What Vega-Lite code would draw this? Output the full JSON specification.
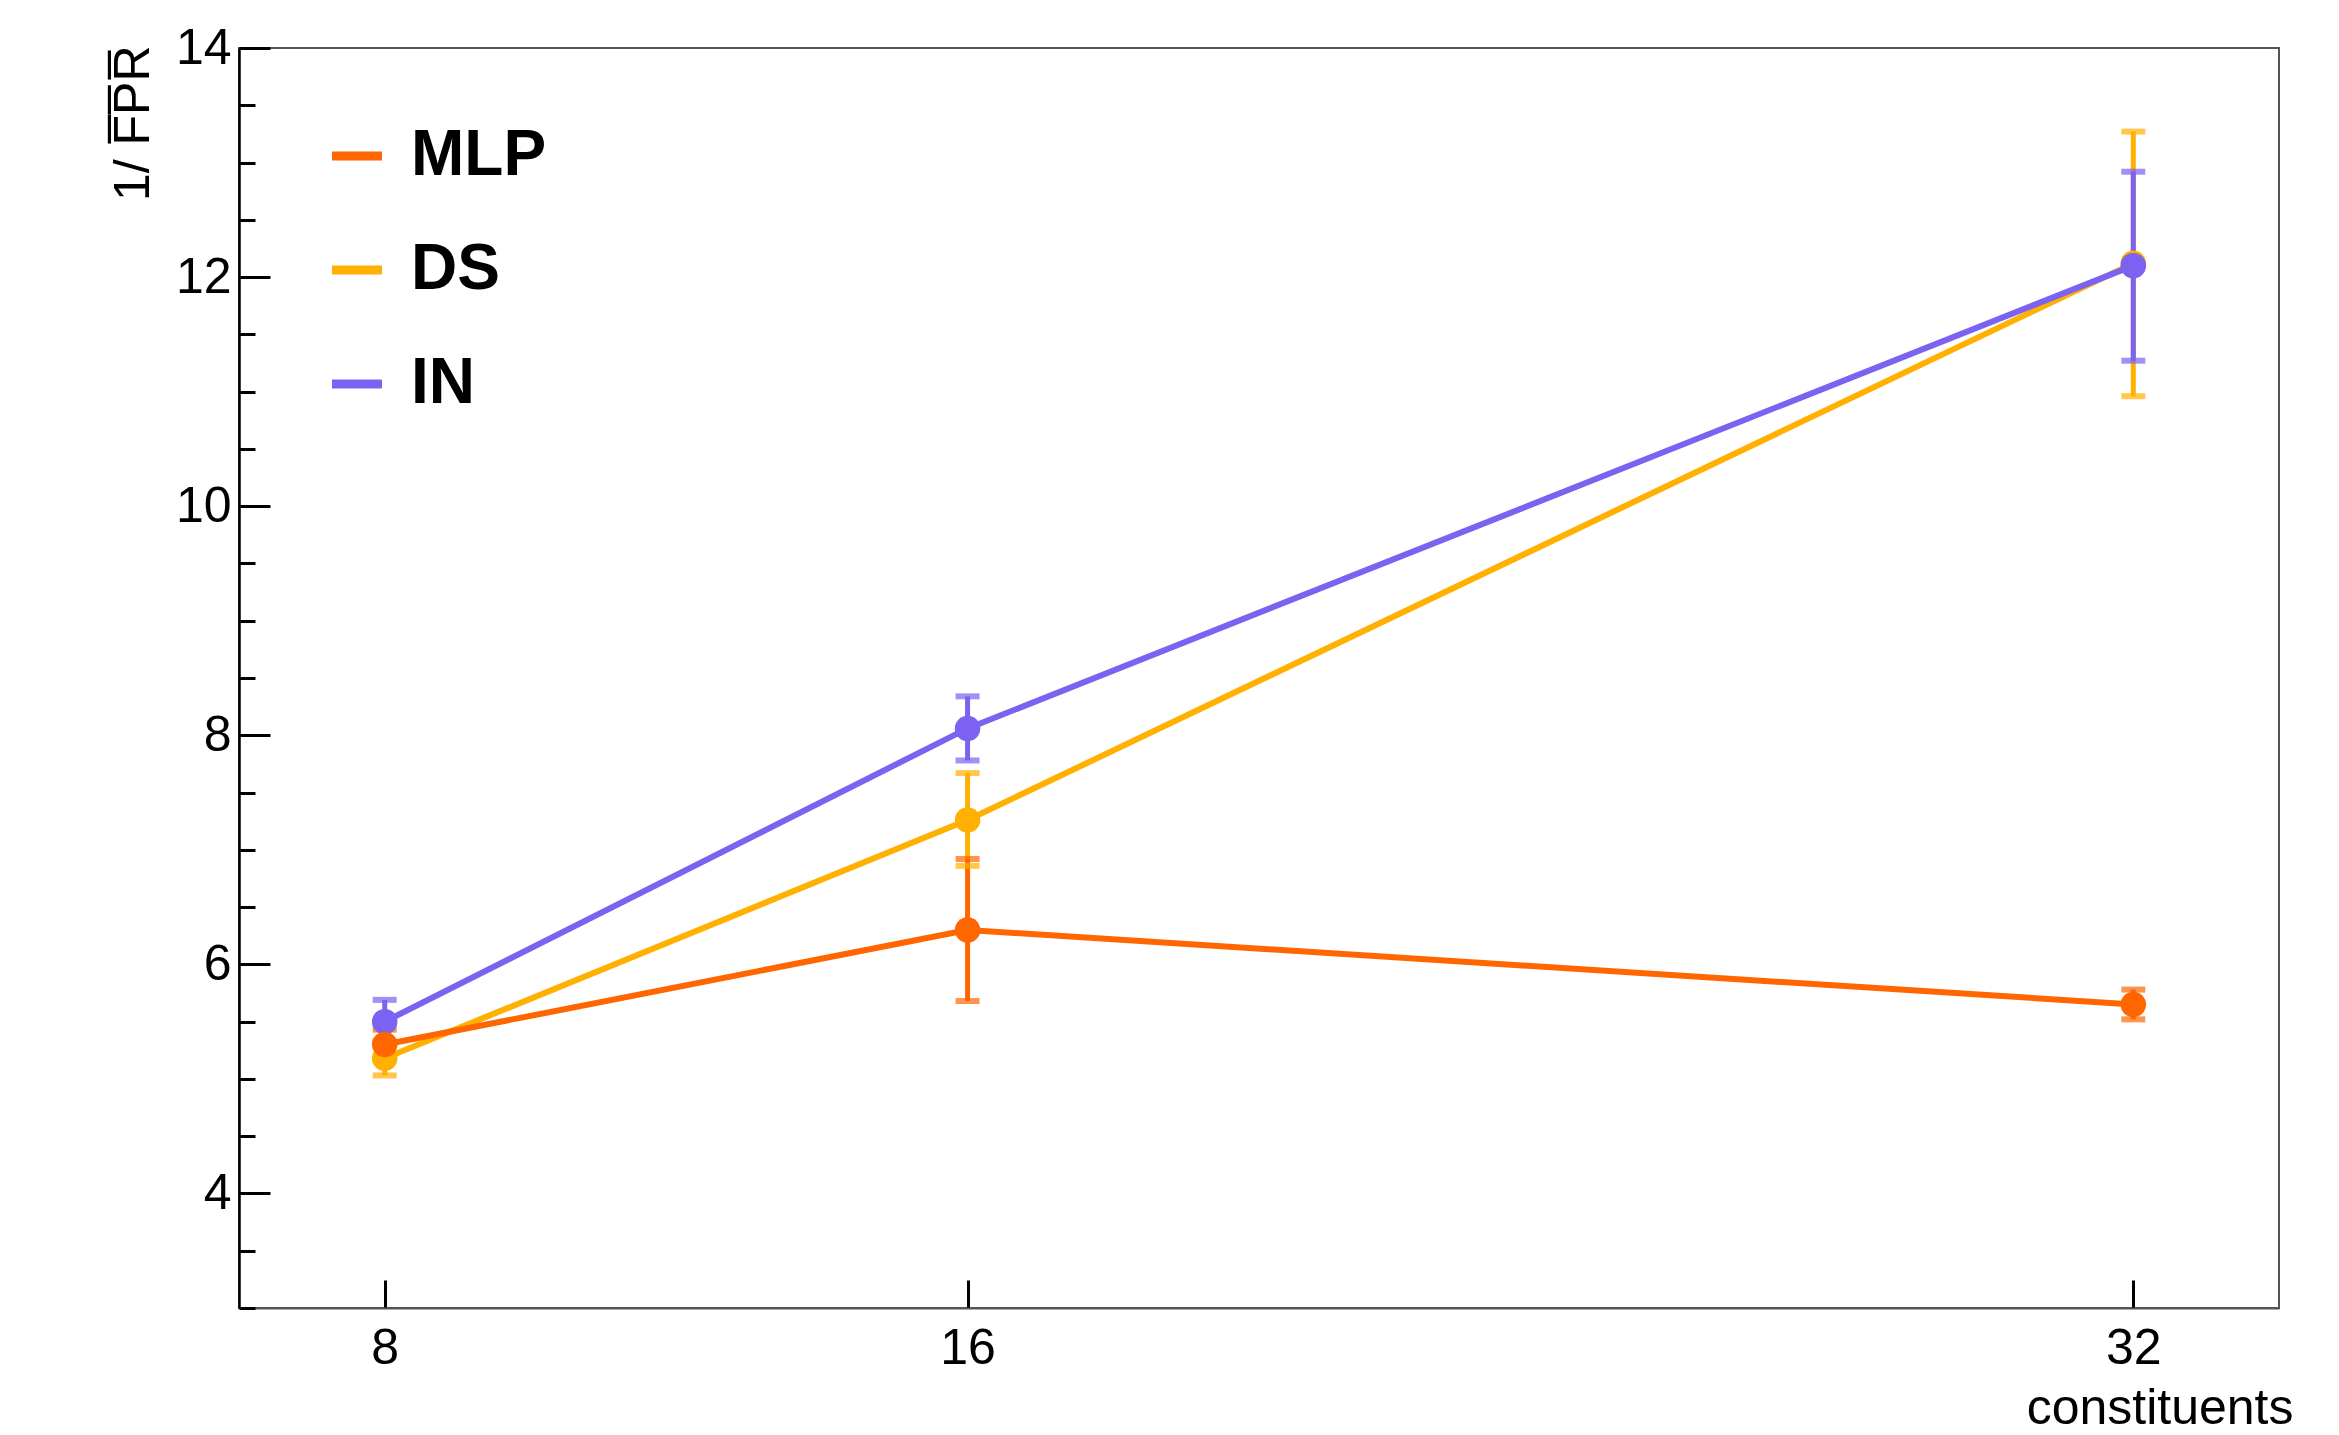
{
  "$schema": "https://vega.github.io/schema/vega-lite/v6.json",
  "width": 2040,
  "height": 1260,
  "autosize": {"type": "none"},
  "padding": {"left": 239, "top": 48, "right": 60, "bottom": 127},
  "background": "white",
  "config": {
    "view": {"stroke": "#555555", "strokeWidth": 2},
    "font": "Liberation Sans",
    "axis": {
      "labelFont": "Liberation Sans",
      "titleFont": "Liberation Sans",
      "labelFontSize": 50,
      "titleFontSize": 50,
      "titleFontWeight": "normal",
      "labelColor": "black",
      "titleColor": "black",
      "grid": false,
      "tickColor": "black",
      "tickWidth": 3
    },
    "axisY": {
      "values": [3, 3.5, 4, 4.5, 5, 5.5, 6, 6.5, 7, 7.5, 8, 8.5, 9, 9.5, 10, 10.5, 11, 11.5, 12, 12.5, 13, 13.5, 14],
      "labelExpr": "datum.value % 2 === 0 && datum.value >= 4 ? '' + datum.value : ''",
      "tickSize": {"condition": {"test": "datum.value % 2 === 0", "value": -31}, "value": -16},
      "domainColor": "black",
      "domainWidth": 2.5,
      "labelPadding": 39,
      "labelFlush": false,
      "titleFontSize": 50,
      "titleAngle": -90,
      "titleAlign": "right",
      "titleBaseline": "alphabetic",
      "titleX": -91,
      "titleY": -3
    },
    "legend": {
      "orient": "none",
      "legendX": 86,
      "legendY": 76,
      "symbolType": "stroke",
      "symbolStrokeWidth": 9,
      "symbolSize": 2500,
      "symbolOpacity": 1,
      "labelFont": "Liberation Sans",
      "labelFontSize": 64,
      "labelFontWeight": "bold",
      "labelColor": "black",
      "rowPadding": 50,
      "labelOffset": 22,
      "padding": 0
    }
  },
  "data": {
    "values": [
      {"model": "DS", "n": 8, "v": 5.18, "lo": 5.03, "hi": 5.33},
      {"model": "DS", "n": 16, "v": 7.26, "lo": 6.86, "hi": 7.67},
      {"model": "DS", "n": 32, "v": 12.12, "lo": 10.96, "hi": 13.27},
      {"model": "IN", "n": 8, "v": 5.50, "lo": 5.31, "hi": 5.69},
      {"model": "IN", "n": 16, "v": 8.06, "lo": 7.78, "hi": 8.34},
      {"model": "IN", "n": 32, "v": 12.10, "lo": 11.27, "hi": 12.92},
      {"model": "MLP", "n": 8, "v": 5.30, "lo": 5.17, "hi": 5.43},
      {"model": "MLP", "n": 16, "v": 6.30, "lo": 5.68, "hi": 6.92},
      {"model": "MLP", "n": 32, "v": 5.65, "lo": 5.52, "hi": 5.78}
    ]
  },
  "encoding": {
    "x": {
      "field": "n",
      "type": "quantitative",
      "scale": {"domain": [6, 34], "nice": false, "zero": false},
      "axis": {
        "values": [8, 16, 32],
        "tickSize": -28,
        "domainColor": "#555555",
        "domainWidth": 2,
        "labelPadding": 43,
        "labelFlush": false,
        "title": "constituents",
        "titleX": 2054,
        "titleY": 115,
        "titleAlign": "right",
        "titleBaseline": "alphabetic",
        "titleAnchor": "end"
      }
    },
    "color": {
      "field": "model",
      "type": "nominal",
      "scale": {"domain": ["MLP", "DS", "IN"], "range": ["#ff6600", "#ffb000", "#7b62f0"]},
      "legend": {"title": null}
    }
  },
  "layer": [
    {
      "mark": {"type": "rule", "strokeWidth": 5},
      "encoding": {
        "y": {"field": "lo", "type": "quantitative", "scale": {"domain": [3, 14], "nice": false, "zero": false}, "axis": {"title": "1/ F̅P̅R̅"}},
        "y2": {"field": "hi"}
      }
    },
    {
      "mark": {"type": "tick", "orient": "horizontal", "thickness": 6, "size": 24},
      "encoding": {"y": {"field": "lo", "type": "quantitative", "scale": {"domain": [3, 14], "nice": false, "zero": false}, "axis": {"title": "1/ F̅P̅R̅"}}}
    },
    {
      "mark": {"type": "tick", "orient": "horizontal", "thickness": 6, "size": 24},
      "encoding": {"y": {"field": "hi", "type": "quantitative", "scale": {"domain": [3, 14], "nice": false, "zero": false}, "axis": {"title": "1/ F̅P̅R̅"}}}
    },
    {
      "mark": {"type": "line", "strokeWidth": 6},
      "encoding": {"y": {"field": "v", "type": "quantitative", "scale": {"domain": [3, 14], "nice": false, "zero": false}, "axis": {"title": "1/ F̅P̅R̅"}}}
    },
    {
      "mark": {"type": "point", "filled": true, "size": 650, "opacity": 1},
      "encoding": {"y": {"field": "v", "type": "quantitative", "scale": {"domain": [3, 14], "nice": false, "zero": false}, "axis": {"title": "1/ F̅P̅R̅"}}}
    }
  ]
}
